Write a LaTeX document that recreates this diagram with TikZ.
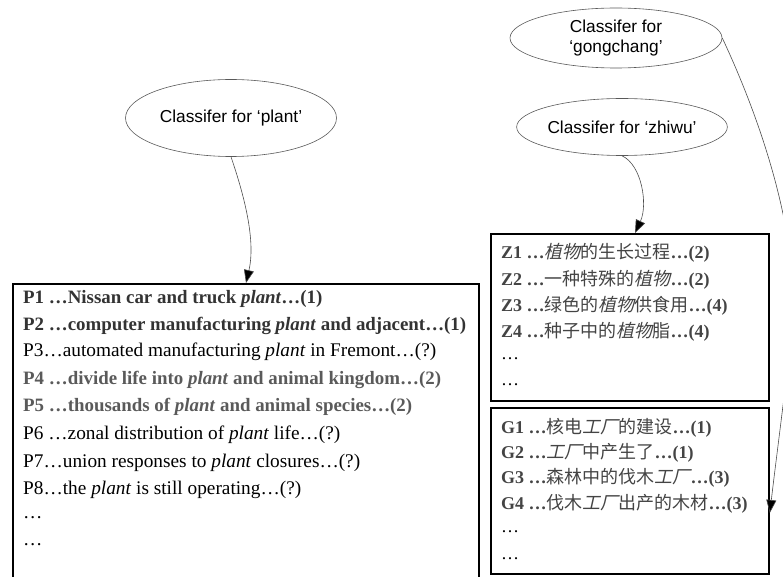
\documentclass[tikz,border=0pt]{standalone}
\usepackage{fontspec}
\setmainfont{Liberation Serif}
\newfontfamily\arialf{Liberation Sans}
\newfontfamily\cjk{Noto Sans CJK SC}
\newfontfamily\cjkit{Noto Sans CJK SC}[FakeSlant=0.22]
\usetikzlibrary{shapes.geometric,arrows.meta}
\newcommand\plantw{\textit{plant}}
\newcommand\zw{{\cjkit 植物}}
\newcommand\gc{{\cjkit 工厂}}
\definecolor{darkb}{HTML}{333333}
\definecolor{midg}{HTML}{5A5A5A}
\definecolor{zg}{HTML}{444444}
\tikzset{
  cls/.style={ellipse, draw=black!65, line width=0.6pt, inner sep=0pt, font=\arialf\fontsize{17.3}{20}\selectfont, align=center},
  listbox/.style={draw=black, line width=1.8pt, inner sep=0pt, anchor=north west},
  ln/.style={anchor=west, inner sep=0pt, font=\fontsize{19.3}{21}\selectfont},
  bl/.style={ln, font=\fontsize{18.9}{21}\selectfont\bfseries, text=darkb},
  gl/.style={ln, font=\fontsize{18.9}{21}\selectfont\bfseries, text=midg},
  zl/.style={ln, font=\fontsize{18}{21}\selectfont\bfseries, text=zg},
  zd/.style={ln, font=\fontsize{18}{21}\selectfont},
  conn/.style={draw=black!70, line width=0.6pt, -{Triangle[length=13pt,width=10pt,fill=black]}}
}
\begin{document}
\begin{tikzpicture}[x=1pt,y=-1pt]
\useasboundingbox (0,0) rectangle (783,577);
\clip (0,0) rectangle (783,577);
% ellipses
\node[cls, minimum width=211pt, minimum height=77pt] (cplant) at (231,118) {Classifer for ‘plant’};
\node[cls, minimum width=212pt, minimum height=60pt] (cgong) at (616,38) {Classifer for\\‘gongchang’};
\node[cls, minimum width=209pt, minimum height=57pt] (czhi) at (622,127) {Classifer for ‘zhiwu’};
% boxes
\node[listbox, minimum width=466pt, minimum height=320pt] (pbox) at (12,283) {};
\node[listbox, minimum width=278pt, minimum height=167pt] (zbox) at (490,233) {};
\node[listbox, minimum width=278pt, minimum height=166pt] (gbox) at (490,407) {};
% P lines
\node[bl] (p1) at (23,299) {P1 …Nissan car and truck \plantw…(1)};
\node[bl] (p2) at (23,326) {P2 …computer manufacturing \plantw{} and adjacent…(1)};
\node[ln] (p3) at (23,352) {P3…automated manufacturing \plantw{} in Fremont…(?)};
\node[gl] (p4) at (23,380) {P4 …divide life into \plantw{} and animal kingdom…(2)};
\node[gl] (p5) at (23,407) {P5 …thousands of \plantw{} and animal species…(2)};
\node[ln] (p6) at (23,435) {P6 …zonal distribution of \plantw{} life…(?)};
\node[ln] (p7) at (23,463) {P7…union responses to \plantw{} closures…(?)};
\node[ln] (p8) at (23,490) {P8…the \plantw{} is still operating…(?)};
\node[ln] (p9) at (23,518) {…};
\node[ln] (p10) at (23,545) {…};
% Z lines
\node[zl] (z1) at (501,253) {Z1 …{\mdseries\zw\cjk 的生长过程}…(2)};
\node[zl] (z2) at (501,280) {Z2 …{\mdseries\cjk 一种特殊的\zw}…(2)};
\node[zl] (z3) at (501,306) {Z3 …{\mdseries\cjk 绿色的\zw 供食用}…(4)};
\node[zl] (z4) at (501,332) {Z4 …{\mdseries\cjk 种子中的\zw 脂}…(4)};
\node[zd] (z5) at (501,359) {…};
\node[zd] (z6) at (501,385) {…};
% G lines
\node[zl] (g1) at (501,428) {G1 …{\mdseries\cjk 核电\gc 的建设}…(1)};
\node[zl] (g2) at (501,453) {G2 …{\mdseries\gc\cjk 中产生了}…(1)};
\node[zl] (g3) at (501,478) {G3 …{\mdseries\cjk 森林中的伐木\gc}…(3)};
\node[zl] (g4) at (501,504) {G4 …{\mdseries\cjk 伐木\gc 出产的木材}…(3)};
\node[zd] (g5) at (501,532) {…};
\node[zd] (g6) at (501,559) {…};
% connectors
\draw[conn] (cplant.south) .. controls (244,195) and (256,240) .. ([xshift=234pt]pbox.north west);
\draw[conn] (czhi.south) .. controls (642,165) and (648,205) .. ([xshift=145pt]zbox.north west);
\draw[conn] (cgong.east) .. controls (770,140) and (800,250) .. (792,330) .. controls (784,400) and (776,460) .. ([yshift=-22pt]gbox.east);
\end{tikzpicture}
\end{document}
